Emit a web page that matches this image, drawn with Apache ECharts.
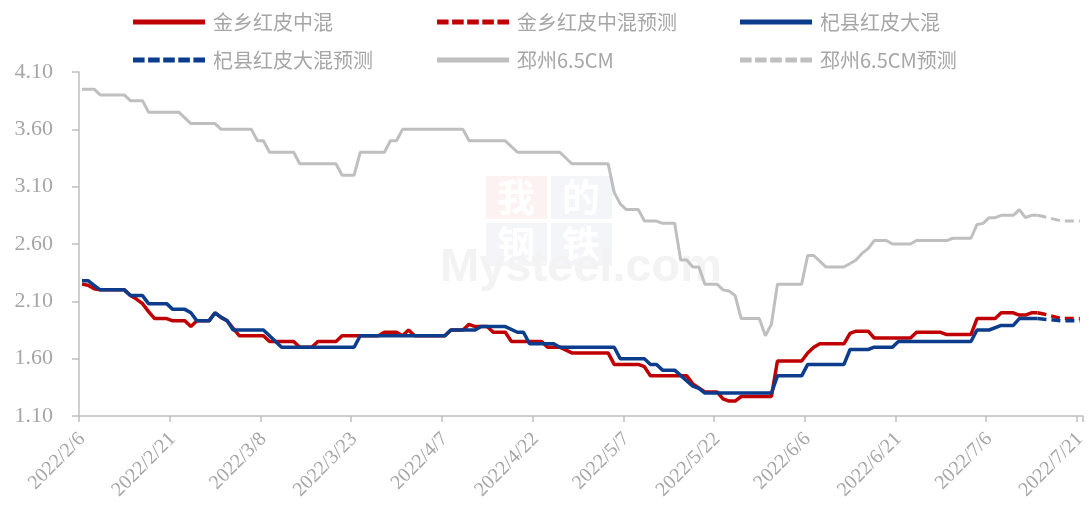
<!DOCTYPE html>
<html><head><meta charset="utf-8">
<script src="https://cdn.jsdelivr.net/npm/echarts@6/dist/echarts.min.js"></script>
<style>html,body{margin:0;padding:0;background:#fff}#c{width:1089px;height:513px}</style>
</head><body><div id="c"></div>
<script>
// x categories: daily dates 2022/2/6 .. 2022/7/21 (index = days since 2022/2/6)
const categories = [];
for (let i = 0; i < 166; i++) {
  const d = new Date(2022, 1, 6 + i);
  categories.push(d.getFullYear() + '/' + (d.getMonth() + 1) + '/' + d.getDate());
}
const names = ['金乡红皮中混', '金乡红皮中混预测', '杞县红皮大混', '杞县红皮大混预测', '邳州6.5CM', '邳州6.5CM预测'];

// [day index, price] at every change point
const jinxiang = [[0,2.25],[1,2.24],[2,2.21],[3,2.20],[7,2.20],[8,2.15],[9,2.12],[10,2.08],[11,2.01],[12,1.95],[14,1.95],[15,1.93],[17,1.93],[18,1.88],[19,1.93],[21,1.93],[22,2.00],[23,1.96],[24,1.93],[26,1.80],[30,1.80],[31,1.75],[35,1.75],[36,1.70],[38,1.70],[39,1.75],[42,1.75],[43,1.80],[49,1.80],[50,1.83],[52,1.83],[53,1.80],[54,1.85],[55,1.80],[60,1.80],[61,1.85],[63,1.85],[64,1.90],[65,1.88],[67,1.88],[68,1.83],[70,1.83],[71,1.75],[76,1.75],[77,1.70],[79,1.70],[81,1.65],[87,1.65],[88,1.55],[92,1.55],[93,1.53],[94,1.45],[100,1.45],[101,1.38],[103,1.31],[105,1.31],[106,1.25],[107,1.23],[108,1.23],[109,1.27],[114,1.27],[115,1.58],[119,1.58],[120,1.65],[121,1.70],[122,1.73],[126,1.73],[127,1.82],[128,1.84],[130,1.84],[131,1.78],[137,1.78],[138,1.83],[142,1.83],[143,1.81],[147,1.81],[148,1.95],[151,1.95],[152,2.00],[154,2.00],[155,1.98],[156,1.98],[157,2.00],[158,2.00]];
const jinxiangForecast = [[158,2.00],[159,1.99],[162,1.95],[165,1.95]];

const qixian = [[0,2.28],[1,2.28],[2,2.24],[3,2.20],[7,2.20],[8,2.15],[10,2.15],[11,2.08],[14,2.08],[15,2.03],[17,2.03],[18,2.00],[19,1.93],[21,1.93],[22,2.00],[23,1.96],[24,1.93],[25,1.85],[30,1.85],[33,1.70],[45,1.70],[46,1.80],[60,1.80],[61,1.85],[65,1.85],[66,1.88],[70,1.88],[72,1.83],[73,1.83],[74,1.73],[78,1.73],[79,1.70],[88,1.70],[89,1.60],[93,1.60],[94,1.55],[95,1.55],[96,1.50],[98,1.50],[101,1.36],[102,1.34],[103,1.30],[114,1.30],[115,1.45],[119,1.45],[120,1.55],[126,1.55],[127,1.68],[130,1.68],[131,1.70],[134,1.70],[135,1.75],[147,1.75],[148,1.85],[150,1.85],[152,1.89],[154,1.89],[155,1.95],[158,1.95]];
const qixianForecast = [[158,1.95],[160,1.94],[162,1.93],[165,1.93]];

const pizhou = [[0,3.95],[2,3.95],[3,3.90],[7,3.90],[8,3.85],[10,3.85],[11,3.75],[16,3.75],[18,3.65],[22,3.65],[23,3.60],[28,3.60],[29,3.50],[30,3.50],[31,3.40],[35,3.40],[36,3.30],[42,3.30],[43,3.20],[45,3.20],[46,3.40],[50,3.40],[51,3.50],[52,3.50],[53,3.60],[63,3.60],[64,3.50],[70,3.50],[72,3.40],[79,3.40],[81,3.30],[87,3.30],[88,3.05],[89,2.95],[90,2.90],[92,2.90],[93,2.80],[95,2.80],[96,2.78],[98,2.78],[99,2.46],[100,2.46],[101,2.40],[102,2.40],[103,2.25],[105,2.25],[106,2.20],[107,2.19],[108,2.15],[109,1.95],[112,1.95],[113,1.80],[114,1.90],[115,2.25],[119,2.25],[120,2.50],[121,2.50],[123,2.40],[126,2.40],[128,2.46],[129,2.52],[130,2.56],[131,2.63],[133,2.63],[134,2.60],[137,2.60],[138,2.63],[143,2.63],[144,2.65],[147,2.65],[148,2.77],[149,2.78],[150,2.83],[151,2.83],[152,2.85],[154,2.85],[155,2.90],[156,2.83],[157,2.85],[158,2.85]];
const pizhouForecast = [[158,2.85],[159,2.84],[162,2.80],[165,2.80]];

const RED = '#C00000', BLUE = '#0B3D8C', GRAY = '#BFBFBF';
const AXIS = '#BFBFBF', LABEL = '#A6A6A6';
const DASH_ICON = 'path://M0,0h11.6v5h-11.6z M15.1,0h11.6v5h-11.6z M30.2,0h11.6v5h-11.6z M45.3,0h11.6v5h-11.6z M60.4,0h11.6v5h-11.6z';

function line(name, data, color, width, dashed, z) {
  return {
    name, type: 'line', data, symbol: 'none', smooth: false, z,
    lineStyle: { color, width, type: dashed ? [9, 5] : 'solid', cap: 'butt' },
    itemStyle: { color }, emphasis: { disabled: true }
  };
}
function lg(name, dashed, left, top) {
  return {
    data: [{ name, icon: dashed ? DASH_ICON : 'rect' }], left, top,
    itemWidth: 72, itemHeight: 5, symbolKeepAspect: false, selectedMode: false,
    textStyle: { color: LABEL, fontSize: 20, fontFamily: 'Noto Sans CJK SC', padding: [0, 0, 0, 3] }
  };
}

const chart = echarts.init(document.getElementById('c'), null, { renderer: 'canvas' });
chart.setOption({
  animation: false,
  backgroundColor: '#fff',
  grid: { left: 79, right: 2, top: 72, bottom: 97 },
  legend: [lg(names[0], false, 128, 7), lg(names[1], true, 432, 7), lg(names[2], false, 735, 7),
           lg(names[3], true, 128, 45), lg(names[4], false, 432, 45), lg(names[5], true, 735, 45)],
  graphic: [
    { type: 'rect', shape: { x: 486, y: 176, width: 61, height: 43 }, style: { fill: '#FDF2F2' }, z: 0, silent: true },
    { type: 'rect', shape: { x: 551, y: 176, width: 61, height: 43 }, style: { fill: '#F4F5F9' }, z: 0, silent: true },
    { type: 'rect', shape: { x: 486, y: 223, width: 61, height: 43 }, style: { fill: '#F4F5F9' }, z: 0, silent: true },
    { type: 'rect', shape: { x: 551, y: 223, width: 61, height: 43 }, style: { fill: '#F4F5F9' }, z: 0, silent: true },
    { type: 'text', x: 516, y: 197, style: { text: '我', fill: '#fff', font: 'bold 38px "Noto Sans CJK SC"', align: 'center', verticalAlign: 'middle' }, z: 0, silent: true },
    { type: 'text', x: 581, y: 197, style: { text: '的', fill: '#fff', font: 'bold 38px "Noto Sans CJK SC"', align: 'center', verticalAlign: 'middle' }, z: 0, silent: true },
    { type: 'text', x: 516, y: 244, style: { text: '钢', fill: '#fff', font: 'bold 38px "Noto Sans CJK SC"', align: 'center', verticalAlign: 'middle' }, z: 0, silent: true },
    { type: 'text', x: 581, y: 244, style: { text: '铁', fill: '#fff', font: 'bold 38px "Noto Sans CJK SC"', align: 'center', verticalAlign: 'middle' }, z: 0, silent: true },
    { type: 'text', x: 440, y: 292, style: { text: 'Mysteel.com', fill: '#F3F3F3', font: 'bold 47px "Liberation Sans"', verticalAlign: 'bottom' }, z: 0, silent: true }
  ],
  xAxis: {
    type: 'category', data: categories, boundaryGap: true,
    axisLine: { lineStyle: { color: AXIS, width: 1.5 } },
    axisTick: { show: true, interval: 14, length: 6, lineStyle: { color: AXIS, width: 1.5 } },
    axisLabel: { interval: 14, rotate: 45, margin: 20, color: LABEL, fontSize: 20, fontFamily: 'Liberation Serif' },
    splitLine: { show: false }
  },
  yAxis: {
    type: 'value', min: 1.1, max: 4.1, interval: 0.5,
    axisLine: { show: true, lineStyle: { color: AXIS, width: 1.5 } },
    axisTick: { show: true, length: 7, lineStyle: { color: AXIS, width: 1.5 } },
    axisLabel: { margin: 26, color: LABEL, fontSize: 22, fontFamily: 'Liberation Serif', formatter: v => v.toFixed(2) },
    splitLine: { show: false }
  },
  series: [
    line(names[4], pizhou, GRAY, 3, false, 2),
    line(names[5], pizhouForecast, GRAY, 3, true, 2),
    line(names[0], jinxiang, RED, 3.5, false, 3),
    line(names[1], jinxiangForecast, RED, 3.5, true, 3),
    line(names[2], qixian, BLUE, 3.5, false, 4),
    line(names[3], qixianForecast, BLUE, 3.5, true, 4)
  ]
});
</script></body></html>
